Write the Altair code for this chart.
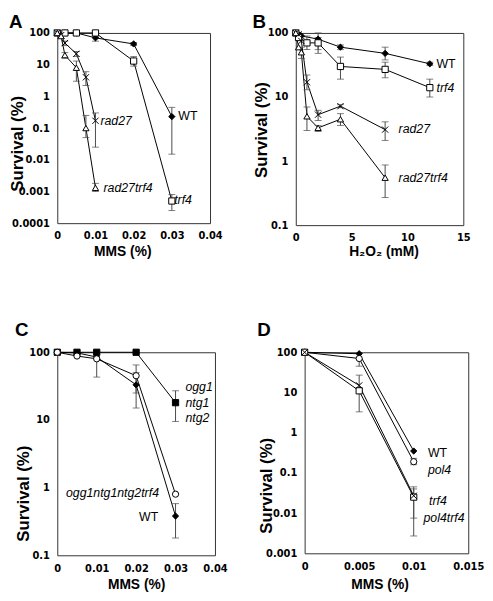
import altair as alt
import pandas as pd

# ---------------- Panel A : MMS (%) ----------------
A_WT_X = [0, 0.002, 0.005, 0.01, 0.02, 0.03]
A_WT_Y = [100, 100, 100, 70, 45, 0.23]
A_WT_LO = [None, None, None, 55, 40, 0.015]
A_WT_HI = [None, None, None, 85, 50, 0.45]

A_TRF4_X = [0, 0.002, 0.005, 0.01, 0.02, 0.03]
A_TRF4_Y = [100, 100, 100, 100, 13, 0.0005]
A_TRF4_LO = [None, None, None, None, 9, 0.00025]
A_TRF4_HI = [None, None, None, None, 18, 0.0008]

A_RAD27_X = [0, 0.001, 0.002, 0.005, 0.0075, 0.01]
A_RAD27_Y = [100, 85, 48, 22, 4.0, 0.17]
A_RAD27_LO = [None, None, 40, 18, 2.2, 0.025]
A_RAD27_HI = [None, None, 55, 26, 6.0, 0.3]

A_R27T_X = [0, 0.001, 0.002, 0.005, 0.0075, 0.01]
A_R27T_Y = [100, 80, 20, 8, 0.1, 0.0013]
A_R27T_LO = [None, None, 16, 3, 0.05, 0.001]
A_R27T_HI = [None, None, 24, 13, 0.25, 0.0018]

A_LABELS = ["rad27", "WT", "rad27trf4", "trf4"]
A_LABEL_X = [0.0113, 0.0317, 0.0121, 0.0306]
A_LABEL_Y = [0.17, 0.24, 0.0013, 0.00055]
A_LABEL_STYLE = ["italic", "normal", "italic", "italic"]
A_LABEL_ALIGN = ["left", "left", "left", "left"]

# ---------------- Panel B : H2O2 (mM) ----------------
B_WT_X = [0, 0.25, 0.5, 2, 4, 8, 12]
B_WT_Y = [100, 95, 90, 80, 60, 48, 33]
B_WT_LO = [None, None, None, 55, 55, 38, 31]
B_WT_HI = [None, None, None, 100, 65, 60, 35]

B_TRF4_X = [0, 0.25, 1, 2, 4, 8, 12]
B_TRF4_Y = [100, 85, 70, 70, 30, 27, 14]
B_TRF4_LO = [None, None, 55, 48, 19, 20, 10]
B_TRF4_HI = [None, None, 90, 85, 42, 35, 19]

B_RAD27_X = [0, 0.25, 0.5, 1, 2, 4, 8]
B_RAD27_Y = [100, 95, 75, 17, 5.3, 7.2, 3.1]
B_RAD27_LO = [None, None, None, 13, 4.3, 6.8, 2.1]
B_RAD27_HI = [None, None, None, 22, 6.2, 7.6, 4.1]

B_R27T_X = [0, 0.25, 0.5, 1, 2, 4, 8]
B_R27T_Y = [100, 60, 50, 5, 3.3, 4.5, 0.55]
B_R27T_LO = [None, None, 40, 3, 2.9, 3.6, 0.27]
B_R27T_HI = [None, None, 60, 7, 3.6, 5.5, 0.87]

B_LABELS = ["WT", "trf4", "rad27", "rad27trf4"]
B_LABEL_X = [12.6, 12.6, 9.2, 9.2]
B_LABEL_Y = [33, 14, 3.2, 0.55]
B_LABEL_STYLE = ["normal", "italic", "italic", "italic"]
B_LABEL_ALIGN = ["left", "left", "left", "left"]

# ---------------- Panel C : MMS (%) ----------------
C_X = [0, 0.005, 0.01, 0.02, 0.03]
C_OGG_Y = [100, 100, 100, 100, 18]
C_OGG_LO = [None, None, None, None, 9.5]
C_OGG_HI = [None, None, None, None, 27]
C_WT_Y = [100, 98, 85, 33, 0.38]
C_WT_LO = [None, None, None, 15, 0.18]
C_WT_HI = [None, None, None, 50, 0.58]
C_OGGT_Y = [100, 88, 80, 45, 0.8]
C_OGGT_LO = [None, None, 43, 25, None]
C_OGGT_HI = [None, None, 100, 65, None]

C_LABELS = ["ogg1", "ntg1", "ntg2", "ogg1ntg1ntg2trf4", "WT"]
C_LABEL_X = [0.0325, 0.0325, 0.0325, 0.0258, 0.0256]
C_LABEL_Y = [31, 18, 10.7, 0.83, 0.37]
C_LABEL_STYLE = ["italic", "italic", "italic", "italic", "normal"]
C_LABEL_ALIGN = ["left", "left", "left", "right", "right"]

# ---------------- Panel D : MMS (%) ----------------
D_X = [0, 0.005, 0.01]
D_WT_Y = [100, 92, 0.35]
D_WT_LO = [None, None, None]
D_WT_HI = [None, None, None]
D_POL4_Y = [100, 70, 0.19]
D_POL4_LO = [None, 45, 0.16]
D_POL4_HI = [None, 95, 0.23]
D_TRF4_Y = [100, 11, 0.025]
D_TRF4_LO = [None, 3.3, 0.0075]
D_TRF4_HI = [None, 27, 0.045]
D_P4T_Y = [100, 15, 0.027]
D_P4T_LO = [None, None, 0.0027]
D_P4T_HI = [None, None, 0.04]

D_LABELS = ["WT", "pol4", "trf4", "pol4trf4"]
D_LABEL_X = [0.0113, 0.0113, 0.0114, 0.0109]
D_LABEL_Y = [0.31, 0.115, 0.0195, 0.0076]
D_LABEL_STYLE = ["normal", "italic", "italic", "italic"]
D_LABEL_ALIGN = ["left", "left", "left", "left"]

# ---------------- marker styles ----------------
XPATH = "M-1,-1L1,1M-1,1L1,-1"
SERIES = ["WT", "trf4", "rad27", "rad27trf4", "ogg1ntg1ntg2",
          "ogg1ntg1ntg2trf4", "pol4", "pol4trf4"]
SHAPES = ["diamond", "square", XPATH, "triangle-up", "square",
          "circle", "circle", XPATH]
FILLS = ["black", "white", "black", "white", "black",
         "white", "white", "black"]

LABEL_FONT = "DejaVu Sans"
TITLE_FONT = "Liberation Sans"


def series_df(name, xs, ys, los, his):
    return pd.DataFrame({"series": name, "x": xs, "y": ys, "lo": los, "hi": his})


def panel(letter, dfs, labels, xdom, xticks, ydom, yticks, w, h,
          xtitle, ytitle_x, ytitle_y, xtitle_x, xtitle_y, title_offset):
    df = pd.concat(dfs, ignore_index=True)
    err = df.dropna(subset=["lo", "hi"])
    xs = alt.Scale(domain=xdom, nice=False, zero=False)
    ys = alt.Scale(type="log", domain=ydom, nice=False)
    xax = alt.Axis(values=xticks, format=".4~g", title=xtitle, labelFlush=False,
                   labelOverlap=False, titleX=xtitle_x, titleY=xtitle_y,
                   labelPadding=8)
    yax = alt.Axis(values=yticks, format=".4~g", title="Survival (%)",
                   labelOverlap=False, titleX=ytitle_x, titleY=ytitle_y,
                   labelPadding=8, titleFontSize=17)
    X = alt.X("x:Q", scale=xs, axis=xax)
    Y = alt.Y("y:Q", scale=ys, axis=yax)
    base = alt.Chart(df)
    lines = base.mark_line(color="black", strokeWidth=1).encode(
        x=X, y=Y, detail="series:N", order="x:Q")
    ebase = alt.Chart(err)
    rules = ebase.mark_rule(color="#4a4a4a", strokeWidth=1).encode(
        x=X, y=alt.Y("lo:Q", scale=ys, axis=yax), y2="hi:Q")
    caps_lo = ebase.mark_tick(orient="horizontal", color="#4a4a4a",
                              size=7, thickness=1).encode(
        x=X, y=alt.Y("lo:Q", scale=ys, axis=yax))
    caps_hi = ebase.mark_tick(orient="horizontal", color="#4a4a4a",
                              size=7, thickness=1).encode(
        x=X, y=alt.Y("hi:Q", scale=ys, axis=yax))
    pts = base.mark_point(filled=True, size=40, stroke="black",
                          strokeWidth=1, opacity=1).encode(
        x=X, y=Y,
        shape=alt.Shape("series:N", scale=alt.Scale(domain=SERIES, range=SHAPES),
                        legend=None),
        fill=alt.Fill("series:N", scale=alt.Scale(domain=SERIES, range=FILLS),
                      legend=None),
    )
    lab = pd.DataFrame({"text": labels[0], "x": labels[1], "y": labels[2],
                        "style": labels[3], "align": labels[4]})
    layers = [lines, rules, caps_lo, caps_hi, pts]
    for style in ["italic", "normal"]:
        for align in ["left", "right"]:
            sub = lab[(lab["style"] == style) & (lab["align"] == align)]
            if len(sub) == 0:
                continue
            layers.append(alt.Chart(sub).mark_text(
                align=align, baseline="middle", font=TITLE_FONT,
                fontSize=12.5, fontStyle=style, color="black").encode(
                x=X, y=Y, text="text:N"))
    return alt.layer(*layers).properties(
        width=w, height=h,
        title=alt.TitleParams(letter, anchor="start", frame="bounds",
                              fontSize=19, font=TITLE_FONT, fontWeight="bold",
                              offset=title_offset, color="black"),
    )


chart_a = panel(
    "A",
    [series_df("WT", A_WT_X, A_WT_Y, A_WT_LO, A_WT_HI),
     series_df("trf4", A_TRF4_X, A_TRF4_Y, A_TRF4_LO, A_TRF4_HI),
     series_df("rad27", A_RAD27_X, A_RAD27_Y, A_RAD27_LO, A_RAD27_HI),
     series_df("rad27trf4", A_R27T_X, A_R27T_Y, A_R27T_LO, A_R27T_HI)],
    (A_LABELS, A_LABEL_X, A_LABEL_Y, A_LABEL_STYLE, A_LABEL_ALIGN),
    [0, 0.04], [0, 0.01, 0.02, 0.03, 0.04],
    [0.0001, 100], [0.0001, 0.001, 0.01, 0.1, 1, 10, 100],
    155, 193, "MMS (%)", -31, 112, 66, 22, -4)

chart_b = panel(
    "B",
    [series_df("WT", B_WT_X, B_WT_Y, B_WT_LO, B_WT_HI),
     series_df("trf4", B_TRF4_X, B_TRF4_Y, B_TRF4_LO, B_TRF4_HI),
     series_df("rad27", B_RAD27_X, B_RAD27_Y, B_RAD27_LO, B_RAD27_HI),
     series_df("rad27trf4", B_R27T_X, B_R27T_Y, B_R27T_LO, B_R27T_HI)],
    (B_LABELS, B_LABEL_X, B_LABEL_Y, B_LABEL_STYLE, B_LABEL_ALIGN),
    [0, 15], [0, 5, 10, 15],
    [0.1, 100], [0.1, 1, 10, 100],
    170, 195, "H\u2082O\u2082 (mM)", -26, 98, 89, 20, -4)

chart_c = panel(
    "C",
    [series_df("ogg1ntg1ntg2", C_X, C_OGG_Y, C_OGG_LO, C_OGG_HI),
     series_df("WT", C_X, C_WT_Y, C_WT_LO, C_WT_HI),
     series_df("ogg1ntg1ntg2trf4", C_X, C_OGGT_Y, C_OGGT_LO, C_OGGT_HI)],
    (C_LABELS, C_LABEL_X, C_LABEL_Y, C_LABEL_STYLE, C_LABEL_ALIGN),
    [0, 0.04], [0, 0.01, 0.02, 0.03, 0.04],
    [0.1, 100], [0.1, 1, 10, 100],
    160, 206, "MMS (%)", -25, 143, 80, 23, 7)

chart_d = panel(
    "D",
    [series_df("WT", D_X, D_WT_Y, D_WT_LO, D_WT_HI),
     series_df("pol4", D_X, D_POL4_Y, D_POL4_LO, D_POL4_HI),
     series_df("trf4", D_X, D_TRF4_Y, D_TRF4_LO, D_TRF4_HI),
     series_df("pol4trf4", D_X, D_P4T_Y, D_P4T_LO, D_P4T_HI)],
    (D_LABELS, D_LABEL_X, D_LABEL_Y, D_LABEL_STYLE, D_LABEL_ALIGN),
    [0, 0.015], [0, 0.005, 0.01, 0.015],
    [0.001, 100], [0.001, 0.01, 0.1, 1, 10, 100],
    166, 204, "MMS (%)", -30, 135, 76, 25, 7)

row1 = alt.hconcat(chart_a, chart_b, spacing=87, bounds="flush")
row2 = alt.hconcat(chart_c, chart_d, spacing=91, bounds="flush")

chart = alt.vconcat(row1, row2, spacing=62, bounds="full").properties(
    padding=0
).configure_view(
    stroke="#333333", strokeWidth=1
).configure_axis(
    grid=False, domain=False, ticks=False, labelOverlap=False,
    labelFont=LABEL_FONT, labelFontWeight="bold", labelFontSize=10,
    labelColor="black",
    titleFont=TITLE_FONT, titleFontWeight="bold", titleFontSize=14,
    titleColor="black",
)

chart.save("out.html", embed_options={"renderer": "svg", "actions": False})
